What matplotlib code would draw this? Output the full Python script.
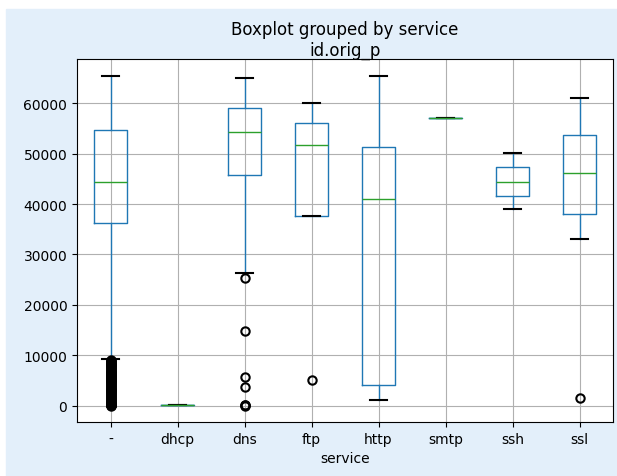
import matplotlib
matplotlib.use("Agg")
import matplotlib.pyplot as plt
from matplotlib.patches import Rectangle

# box statistics (id.orig_p per service)
services = ['-', 'dhcp', 'dns', 'ftp', 'http', 'smtp', 'ssh', 'ssl']
whislo = [9200, 68, 26400, 37700, 1000, 57000, 39100, 33000]
q1 = [36200, 68, 45700, 37700, 4100, 57000, 41600, 38000]
med = [44300, 68, 54400, 51700, 41000, 57000, 44300, 46100]
q3 = [54800, 68, 59100, 56200, 51400, 57000, 47400, 53700]
whishi = [65535, 68, 65000, 60100, 65535, 57000, 50100, 61000]

# the "-" outliers sit so close together that they form a solid column
fliers_dash = [0, 53, 68, 123, 137, 138, 161, 443, 520, 631, 800, 1024, 1200,
               1433, 1600, 1900, 2049, 2200, 2400, 2600, 2869, 3000, 3128,
               3306, 3389, 3600, 3800, 4000, 4200, 4444, 4600, 4800, 5000,
               5060, 5222, 5353, 5432, 5600, 5800, 5900, 6000, 6200, 6379,
               6600, 6667, 6800, 7000, 7200, 7400, 7547, 7800, 8000, 8080,
               8200, 8443, 8600, 8800, 8888, 9000]
fliers_dns = [25300, 14700, 5700, 3700, 0, 53, 137]
fliers_ftp = [5100]
fliers_ssl = [1400]
fliers = [fliers_dash, [], fliers_dns, fliers_ftp, [], [], [], fliers_ssl]

stats = []
for i in range(len(services)):
    stats.append({'label': services[i], 'whislo': whislo[i], 'q1': q1[i],
                  'med': med[i], 'q3': q3[i], 'whishi': whishi[i],
                  'fliers': fliers[i]})

fig = plt.figure(figsize=(6.17, 4.77), dpi=100)
fig.patches.append(Rectangle((6 / 617, 0), 1, 1 - 10 / 477,
                             transform=fig.transFigure, color='#e3effa',
                             zorder=-10))
ax = fig.add_axes([77 / 617, 1 - 423 / 477, 536 / 617, 363 / 477])

ax.bxp(stats,
       boxprops=dict(color='C0'),
       whiskerprops=dict(color='C0'),
       medianprops=dict(color='C2'),
       capprops=dict(color='k', linewidth=1.5),
       flierprops=dict(marker='o', markeredgecolor='k', markerfacecolor='none',
                       markeredgewidth=1.5))

ax.grid(True)
ax.set_axisbelow(True)
ax.set_title('id.orig_p', fontsize=12, pad=-2)
ax.set_xlabel('service')
fig.text(345 / 617, 1 - 21 / 477, 'Boxplot grouped by service',
         ha='center', va='top', fontsize=12)

fig.savefig('out.png', dpi=100)
